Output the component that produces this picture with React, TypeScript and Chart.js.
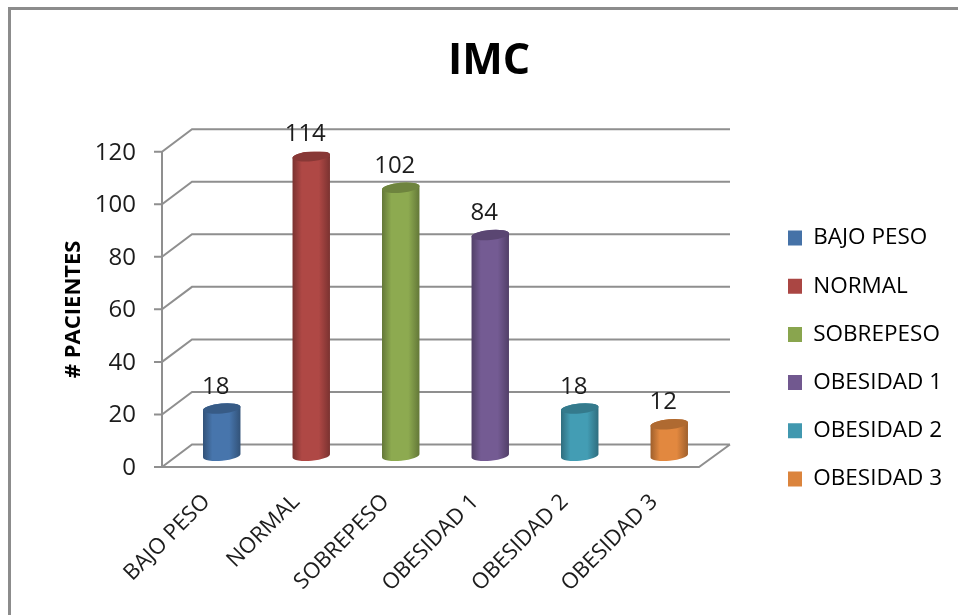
import React, { useEffect, useRef } from "react";
import { Chart, registerables, BarController, BarElement } from "chart.js";

const categories = ["BAJO PESO", "NORMAL", "SOBREPESO", "OBESIDAD 1", "OBESIDAD 2", "OBESIDAD 3"];
const patientCounts = [18, 114, 102, 84, 18, 12];
const barColors = ["#4572A7", "#AA4643", "#89A54E", "#71588F", "#4198AF", "#DB843D"];

const FONT = "'Open Sans', sans-serif";
const LINE = "#8f8f8f";
const INK = "#1c1c1c";
const WALL_DX = 30;
const WALL_DY = 22.5;
const CANVAS_W = 958;
const CANVAS_H = 615;
const PLOT_LEFT = 162;
const PLOT_RIGHT = 699;
const PLOT_TOP = 151.7;
const PLOT_BOTTOM = 467;
const LEGEND_SIZE = 22.5;
const LEGEND_GAP = 25.7;
const LEGEND_BOX = 14;

function shade(hex: string, k: number) {
  const n = parseInt(hex.slice(1), 16);
  const c = (v: number) => Math.min(255, Math.round(v * k));
  return `rgb(${c((n >> 16) & 255)},${c((n >> 8) & 255)},${c(n & 255)})`;
}

// Bar element painted as an upright cylinder standing midway across the floor.
class CylinderElement extends BarElement {
  static id = "cylinder";
  draw(ctx: CanvasRenderingContext2D) {
    const { x, y, base, width } = (this as any).getProps(["x", "y", "base", "width"], true);
    const color = (this as any).options.backgroundColor as string;
    const cx = x + WALL_DX / 2;
    const top = y - WALL_DY / 2;
    const bottom = base - WALL_DY / 2;
    const rx = width / 2;
    const ry = 5;
    const tilt = -0.09;
    const grad = ctx.createLinearGradient(cx - rx, 0, cx + rx, 0);
    grad.addColorStop(0, shade(color, 0.72));
    grad.addColorStop(0.25, shade(color, 1.03));
    grad.addColorStop(0.7, shade(color, 1.03));
    grad.addColorStop(1, shade(color, 0.72));
    ctx.save();
    ctx.beginPath();
    ctx.ellipse(cx, bottom, rx, ry, tilt, Math.PI, 0, true);
    ctx.ellipse(cx, top, rx, ry, tilt, 0, Math.PI, true);
    ctx.closePath();
    ctx.fillStyle = grad;
    ctx.fill();
    ctx.beginPath();
    ctx.ellipse(cx, top, rx, ry, tilt, 0, Math.PI * 2);
    ctx.fillStyle = shade(color, 0.8);
    ctx.fill();
    ctx.restore();
  }
}

class CylinderController extends BarController {
  static id = "cylinder";
  static defaults = { dataElementType: "cylinder" };
}

Chart.register(...registerables, CylinderElement, CylinderController);

// Outer frame of the chart, open at the right and bottom edges of the page.
const framePlugin = {
  id: "frame",
  beforeDraw(chart: any) {
    const { ctx } = chart;
    ctx.save();
    ctx.strokeStyle = "#8c8c8c";
    ctx.lineWidth = 3;
    ctx.beginPath();
    ctx.moveTo(9.5, CANVAS_H + 4);
    ctx.lineTo(9.5, 8.5);
    ctx.lineTo(CANVAS_W + 4, 8.5);
    ctx.stroke();
    ctx.restore();
  },
};

// Back wall, side wall and floor, with gridlines taken from the value scale.
const wallsPlugin = {
  id: "walls",
  beforeDatasetsDraw(chart: any) {
    const { ctx, chartArea, scales } = chart;
    const { left, right } = chartArea;
    const y0 = scales.y.getPixelForValue(0);
    ctx.save();
    ctx.strokeStyle = LINE;
    ctx.lineWidth = 2;
    ctx.beginPath();
    for (const tick of scales.y.ticks) {
      const py = scales.y.getPixelForValue(tick.value);
      ctx.moveTo(left - 8, py);
      ctx.lineTo(left, py);
      ctx.lineTo(left + WALL_DX, py - WALL_DY);
      ctx.lineTo(right + WALL_DX + 1, py - WALL_DY);
    }
    ctx.moveTo(left, scales.y.getPixelForValue(scales.y.max));
    ctx.lineTo(left, y0);
    ctx.lineTo(right, y0);
    ctx.lineTo(right + WALL_DX + 1, y0 - WALL_DY);
    ctx.stroke();
    ctx.restore();
  },
};

// Value written above each cylinder.
const valueLabelsPlugin = {
  id: "valueLabels",
  afterDatasetsDraw(chart: any) {
    const { ctx } = chart;
    const meta = chart.getDatasetMeta(0);
    ctx.save();
    ctx.font = `24px ${FONT}`;
    ctx.fillStyle = INK;
    ctx.textAlign = "center";
    ctx.textBaseline = "middle";
    meta.data.forEach((bar: any, i: number) => {
      ctx.fillText(String(patientCounts[i]), bar.x + 9, bar.y - 33);
    });
    ctx.restore();
  },
};

// The legend keeps its own row spacing; this places it in the free column on the right.
const legendPlacementPlugin = {
  id: "legendPlacement",
  afterLayout(chart: any) {
    const legend = chart.legend;
    const boxLeft = 788;
    const dx = boxLeft - LEGEND_GAP - legend.left;
    const dy = 51;
    legend.left += dx;
    legend.right += dx;
    legend.top += dy;
    legend.bottom += dy;
  },
};

export default function App() {
  const canvasRef = useRef<HTMLCanvasElement>(null);

  useEffect(() => {
    const canvas = canvasRef.current!;
    const measure = canvas.getContext("2d")!;
    measure.font = `${LEGEND_SIZE}px ${FONT}`;
    const widest = Math.max(...categories.map((c) => measure.measureText(c).width));
    const legendWidth = LEGEND_GAP + LEGEND_BOX + LEGEND_SIZE / 2 + widest + 10;
    const padRight = CANVAS_W - PLOT_RIGHT - legendWidth;
    const padLeft = padRight + 20;

    const chart = new Chart(canvas, {
      type: "cylinder" as any,
      data: {
        labels: categories,
        datasets: [
          {
            label: "# PACIENTES",
            data: patientCounts,
            backgroundColor: barColors,
            barPercentage: 0.42,
            categoryPercentage: 1,
          } as any,
        ],
      },
      options: {
        responsive: false,
        animation: false,
        layout: { padding: { left: padLeft, right: padRight, top: 0, bottom: 0 } },
        plugins: {
          tooltip: { enabled: false },
          title: {
            display: true,
            text: "IMC",
            color: "#000",
            font: { family: FONT, size: 43, weight: "bold", lineHeight: 1.2 },
            padding: { top: 36, bottom: PLOT_TOP - 36 - 51.6 },
          },
          legend: {
            display: true,
            position: "right",
            labels: {
              color: INK,
              font: { family: FONT, size: LEGEND_SIZE },
              boxWidth: LEGEND_BOX,
              boxHeight: 15,
              padding: LEGEND_GAP,
              generateLabels: () =>
                categories.map((text, i) => ({
                  text,
                  fillStyle: barColors[i],
                  strokeStyle: barColors[i],
                  lineWidth: 0,
                  hidden: false,
                  index: i,
                  datasetIndex: 0,
                })),
            },
          },
        },
        scales: {
          x: {
            grid: { display: false },
            border: { display: false },
            ticks: {
              color: INK,
              font: { family: FONT, size: 22 },
              minRotation: 45,
              maxRotation: 45,
              autoSkip: false,
              padding: 14,
            },
            afterFit(scale: any) {
              scale.height = CANVAS_H - PLOT_BOTTOM;
            },
          },
          y: {
            min: 0,
            max: 120,
            grid: { display: false },
            border: { display: false },
            ticks: {
              stepSize: 20,
              color: INK,
              font: { family: FONT, size: 24 },
              padding: 18,
              labelOffset: 1,
            },
            title: {
              display: true,
              text: "# PACIENTES",
              color: "#000",
              font: { family: FONT, size: 22, weight: "bold", lineHeight: 1.2 },
              padding: { top: 72 - 11.5 - padLeft, bottom: 0 },
            },
            afterFit(scale: any) {
              scale.width = PLOT_LEFT - padLeft;
            },
          },
        },
      } as any,
      plugins: [framePlugin, wallsPlugin, valueLabelsPlugin, legendPlacementPlugin],
    });
    return () => chart.destroy();
  }, []);

  return (
    <div style={{ position: "absolute", left: 0, top: 0, width: CANVAS_W, height: CANVAS_H, overflow: "hidden" }}>
      <canvas ref={canvasRef} width={CANVAS_W} height={CANVAS_H} style={{ display: "block" }} />
    </div>
  );
}
